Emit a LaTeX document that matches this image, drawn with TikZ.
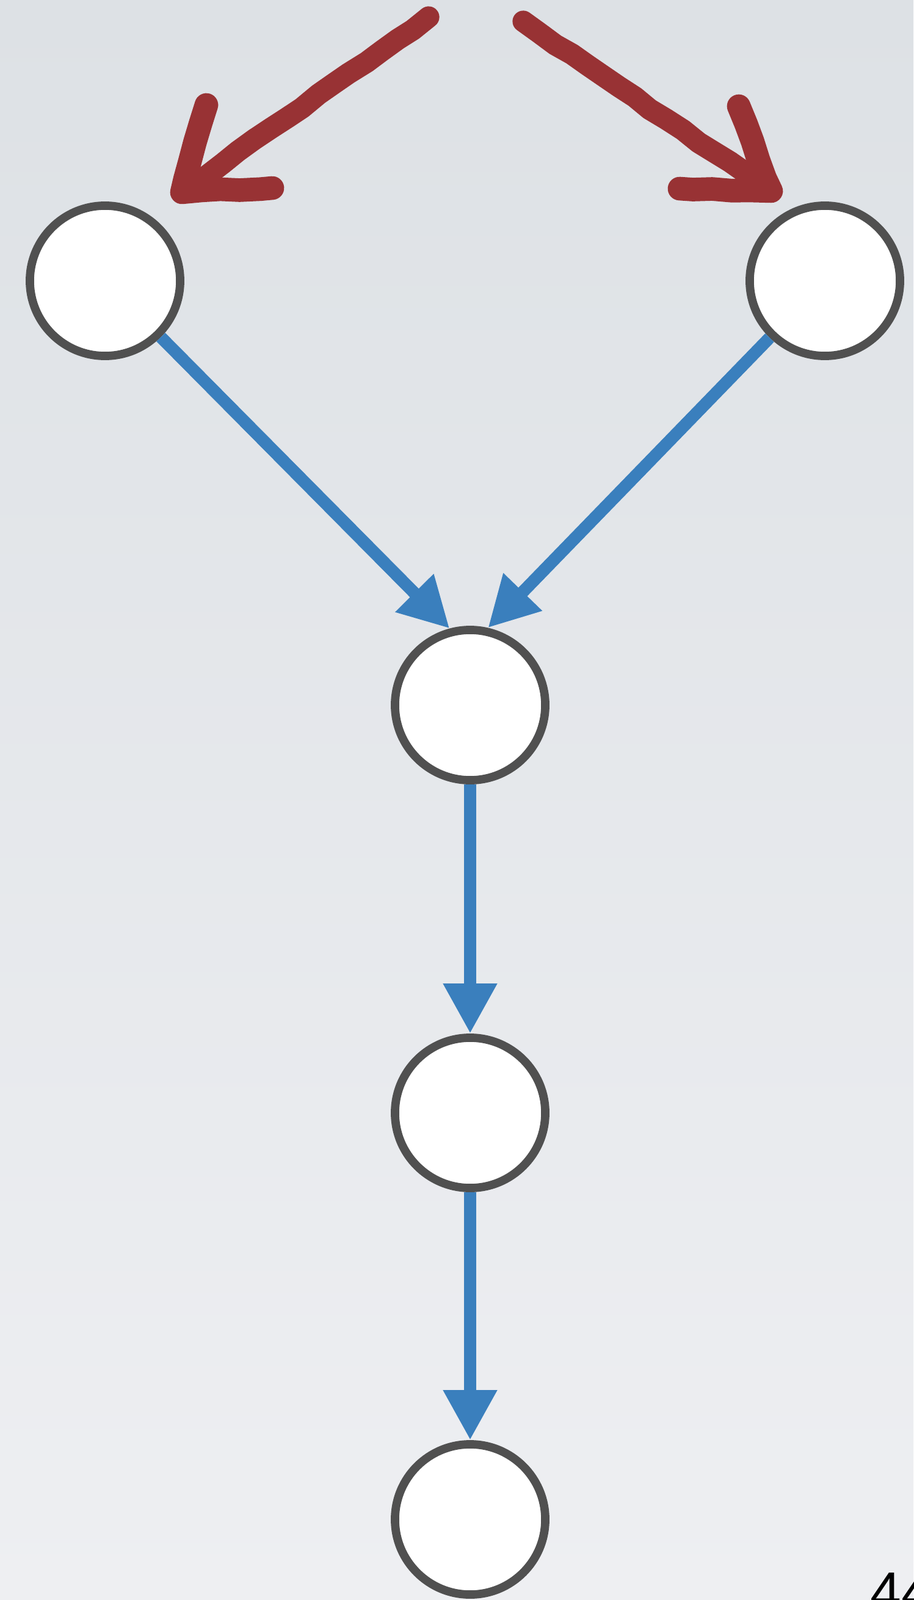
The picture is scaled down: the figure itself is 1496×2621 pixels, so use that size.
\documentclass[tikz,border=0pt]{standalone}
\usepackage{fontspec}
\setsansfont{Liberation Sans}
\usetikzlibrary{arrows.meta,shadows,decorations.pathmorphing}
\definecolor{FlowBlue}{HTML}{3A7FBD}
\definecolor{RingGray}{HTML}{505050}
\definecolor{ChalkRed}{HTML}{983234}
\definecolor{PaperTop}{HTML}{DDE1E5}
\definecolor{PaperBottom}{HTML}{EEEFF2}

\begin{document}
\begin{tikzpicture}[x=0.01cm, y=-0.01cm,
    state/.style={circle, draw=RingGray, fill=white, line width=3.9pt,
          minimum size=2.46cm,
          drop shadow={opacity=0.18, shadow xshift=0pt, shadow yshift=-1.5pt}},
    flow/.style={draw=FlowBlue, line width=5.7pt,
          -{Triangle[width=23.6pt, length=23.3pt]}},
    chalk/.style={draw=ChalkRed, line width=10pt, line cap=round, line join=round,
          decorate, decoration={random steps, segment length=9pt, amplitude=0.6pt}}]
    \useasboundingbox (0,0) rectangle (1496,2621);
    \fill[top color=PaperTop, bottom color=PaperBottom] (0,0) rectangle (1496,2621);

    % states
    \node[state] (topleft)  at (172,460) {};
    \node[state] (topright) at (1351,460) {};
    \node[state] (join)     at (770,1155) {};
    \node[state] (middle)   at (770,1823) {};
    \node[state] (sink)     at (770,2489) {};

    % flow arrows
    \draw[flow] (topleft) -- (join.105);
    \draw[flow] (topright) -- (join.77);
    \draw[flow] (join) -- (middle);
    \draw[flow] (middle) -- (sink);

    % hand-drawn arrows on top
    \coordinate (lTail) at (702,28);
    \coordinate (lTip)  at (298,315);
    \coordinate (lArmA) at (338,172);
    \coordinate (lArmB) at (446,308);
    \coordinate (rTail) at (857,35);
    \coordinate (rTip)  at (1263,313);
    \coordinate (rArmA) at (1210,174);
    \coordinate (rArmB) at (1113,309);
    \draw[chalk] (lTail) -- (lTip);
    \draw[chalk, line width=11pt] (lArmA) -- (lTip) -- (lArmB);
    \draw[chalk] (rTail) -- (rTip);
    \draw[chalk, line width=11pt] (rArmA) -- (rTip) -- (rArmB);

    \node[font=\sffamily\fontsize{26pt}{26pt}\selectfont, anchor=base west,
          inner sep=0pt] (pagenum) at (1425,2639) {44};
  \end{tikzpicture}
\end{document}
